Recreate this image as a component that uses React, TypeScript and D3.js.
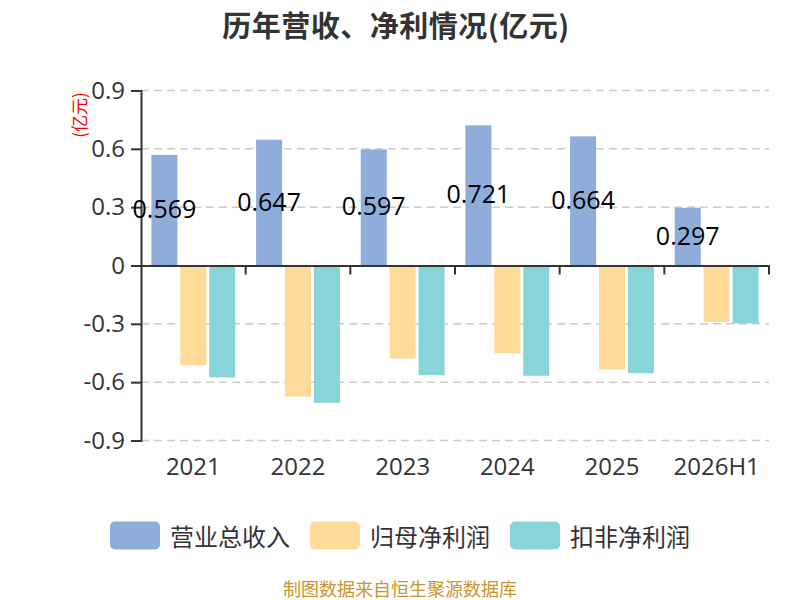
import { useRef, useEffect } from "react";
import * as d3 from "d3";

// categories and series (亿元)
const years = ["2021", "2022", "2023", "2024", "2025", "2026H1"];
const seriesNames = ["营业总收入", "归母净利润", "扣非净利润"];
const revenue = [0.569, 0.647, 0.597, 0.721, 0.664, 0.297];
const netProfit = [-0.514, -0.674, -0.478, -0.451, -0.535, -0.29];
const deductedProfit = [-0.576, -0.706, -0.564, -0.567, -0.554, -0.298];
const yTicks = [-0.9, -0.6, -0.3, 0, 0.3, 0.6, 0.9];
const colors = ["#8FADDA", "#FFDA99", "#87D5D9"];

const App = () => {
    const ref = useRef<SVGSVGElement>(null);

    useEffect(() => {
        if (!ref.current) return;
        const width = 800;
        const height = 600;
        const marginTop = 90.5;
        const marginBottom = 159.5;
        const marginLeft = 141;
        const marginRight = 31;
        const cjk = "'Noto Sans CJK SC', 'Noto Sans', sans-serif";
        const num = "'Open Sans', 'Noto Sans', sans-serif";

        const svg = d3.select(ref.current);
        svg.selectAll("*").remove();
        svg.attr("width", width).attr("height", height);

        const x0 = d3
            .scaleBand()
            .domain(years)
            .range([marginLeft, width - marginRight]);
        const x1 = d3
            .scaleBand()
            .domain(seriesNames)
            .range([10.4, x0.bandwidth() - 10.4])
            .paddingInner(0.1);
        const y = d3
            .scaleLinear()
            .domain([-0.9, 0.9])
            .range([height - marginBottom, marginTop]);

        // Title
        svg.append("text")
            .attr("x", 396)
            .attr("y", 24)
            .attr("text-anchor", "middle")
            .attr("dominant-baseline", "central")
            .attr("font-family", cjk)
            .attr("font-weight", "bold")
            .attr("font-size", 29)
            .attr("letter-spacing", 0.5)
            .attr("fill", "#333")
            .text("历年营收、净利情况(亿元)");

        // Grid lines
        svg.append("g")
            .selectAll("line")
            .data(yTicks.filter((d) => d !== 0))
            .join("line")
            .attr("x1", marginLeft)
            .attr("x2", width - marginRight)
            .attr("y1", (d) => y(d))
            .attr("y2", (d) => y(d))
            .attr("stroke", "#ccc")
            .attr("stroke-width", 1.5)
            .attr("stroke-dasharray", "8,5");

        // Bars
        const table = years.map((yr, i) => ({
            year: yr,
            values: [revenue[i], netProfit[i], deductedProfit[i]],
        }));
        const groups = svg
            .append("g")
            .selectAll("g")
            .data(table)
            .join("g")
            .attr("transform", (d) => `translate(${x0(d.year)},0)`);
        groups
            .selectAll("rect")
            .data((d) => d.values.map((v, j) => ({ v, name: seriesNames[j], j })))
            .join("rect")
            .attr("x", (d) => x1(d.name)!)
            .attr("width", x1.bandwidth())
            .attr("y", (d) => y(Math.max(0, d.v)))
            .attr("height", (d) => Math.abs(y(d.v) - y(0)))
            .attr("fill", (d) => colors[d.j]);

        // y axis
        const yAxis = svg
            .append("g")
            .attr("transform", `translate(${marginLeft},0)`)
            .call(
                d3
                    .axisLeft(y)
                    .tickValues(yTicks)
                    .tickSize(10)
                    .tickPadding(6)
                    .tickFormat((d) => (d === 0 ? "0" : (d as number).toFixed(1)))
            );
        yAxis.select(".domain").attr("stroke", "#333").attr("stroke-width", 2);
        yAxis.selectAll(".tick line").attr("stroke", "#333").attr("stroke-width", 2);
        yAxis
            .selectAll(".tick text")
            .attr("font-family", num)
            .attr("font-size", 24)
            .attr("fill", "#333");

        // x axis at zero
        const xAxis = svg
            .append("g")
            .attr("transform", `translate(0,${y(0)})`)
            .call(d3.axisBottom(x0).tickSize(0).tickFormat(() => ""));
        xAxis.select(".domain").attr("stroke", "#333").attr("stroke-width", 2);
        svg.append("g")
            .selectAll("line")
            .data([...years.slice(1), "end"])
            .join("line")
            .attr("x1", (d) => (d === "end" ? width - marginRight : x0(d)!))
            .attr("x2", (d) => (d === "end" ? width - marginRight : x0(d)!))
            .attr("y1", y(0))
            .attr("y2", y(0) + 9)
            .attr("stroke", "#333")
            .attr("stroke-width", 2);

        // x labels
        svg.append("g")
            .selectAll("text")
            .data(years)
            .join("text")
            .attr("x", (d) => x0(d)! + x0.bandwidth() / 2)
            .attr("y", 465)
            .attr("text-anchor", "middle")
            .attr("dominant-baseline", "central")
            .attr("font-family", num)
            .attr("font-size", 24)
            .attr("fill", "#333")
            .text((d) => d);

        // value labels on revenue bars
        svg.append("g")
            .selectAll("text")
            .data(table)
            .join("text")
            .attr("x", (d) => x0(d.year)! + x1(seriesNames[0])! + x1.bandwidth() / 2)
            .attr("y", (d) => (y(d.values[0]) + y(0)) / 2 - 2)
            .attr("text-anchor", "middle")
            .attr("dominant-baseline", "central")
            .attr("font-family", num)
            .attr("font-size", 25)
            .attr("fill", "#000")
            .text((d) => d3.format(".3f")(d.values[0]));

        // y axis unit
        svg.append("text")
            .attr("transform", "translate(78,115) rotate(-90)")
            .attr("text-anchor", "middle")
            .attr("dominant-baseline", "central")
            .attr("font-family", cjk)
            .attr("font-size", 17)
            .attr("fill", "red")
            .text("(亿元)");

        // Legend
        const legendX = [110, 310, 510];
        const legend = svg
            .append("g")
            .selectAll("g")
            .data(seriesNames)
            .join("g")
            .attr("transform", (_, i) => `translate(${legendX[i]},521.5)`);
        legend
            .append("rect")
            .attr("width", 50)
            .attr("height", 28)
            .attr("rx", 5)
            .attr("fill", (_, i) => colors[i]);
        legend
            .append("text")
            .attr("x", 60)
            .attr("y", 14)
            .attr("dominant-baseline", "central")
            .attr("font-family", cjk)
            .attr("font-size", 24)
            .attr("fill", "#333")
            .text((d) => d);

        // Footer
        svg.append("text")
            .attr("x", 400)
            .attr("y", 588)
            .attr("text-anchor", "middle")
            .attr("dominant-baseline", "central")
            .attr("font-family", cjk)
            .attr("font-size", 18)
            .attr("fill", "#C8952E")
            .text("制图数据来自恒生聚源数据库");
    });

    return (
        <div style={{ position: "absolute", left: 0, top: 0 }}>
            <svg ref={ref} style={{ display: "block" }}></svg>
        </div>
    );
};

export default App;
